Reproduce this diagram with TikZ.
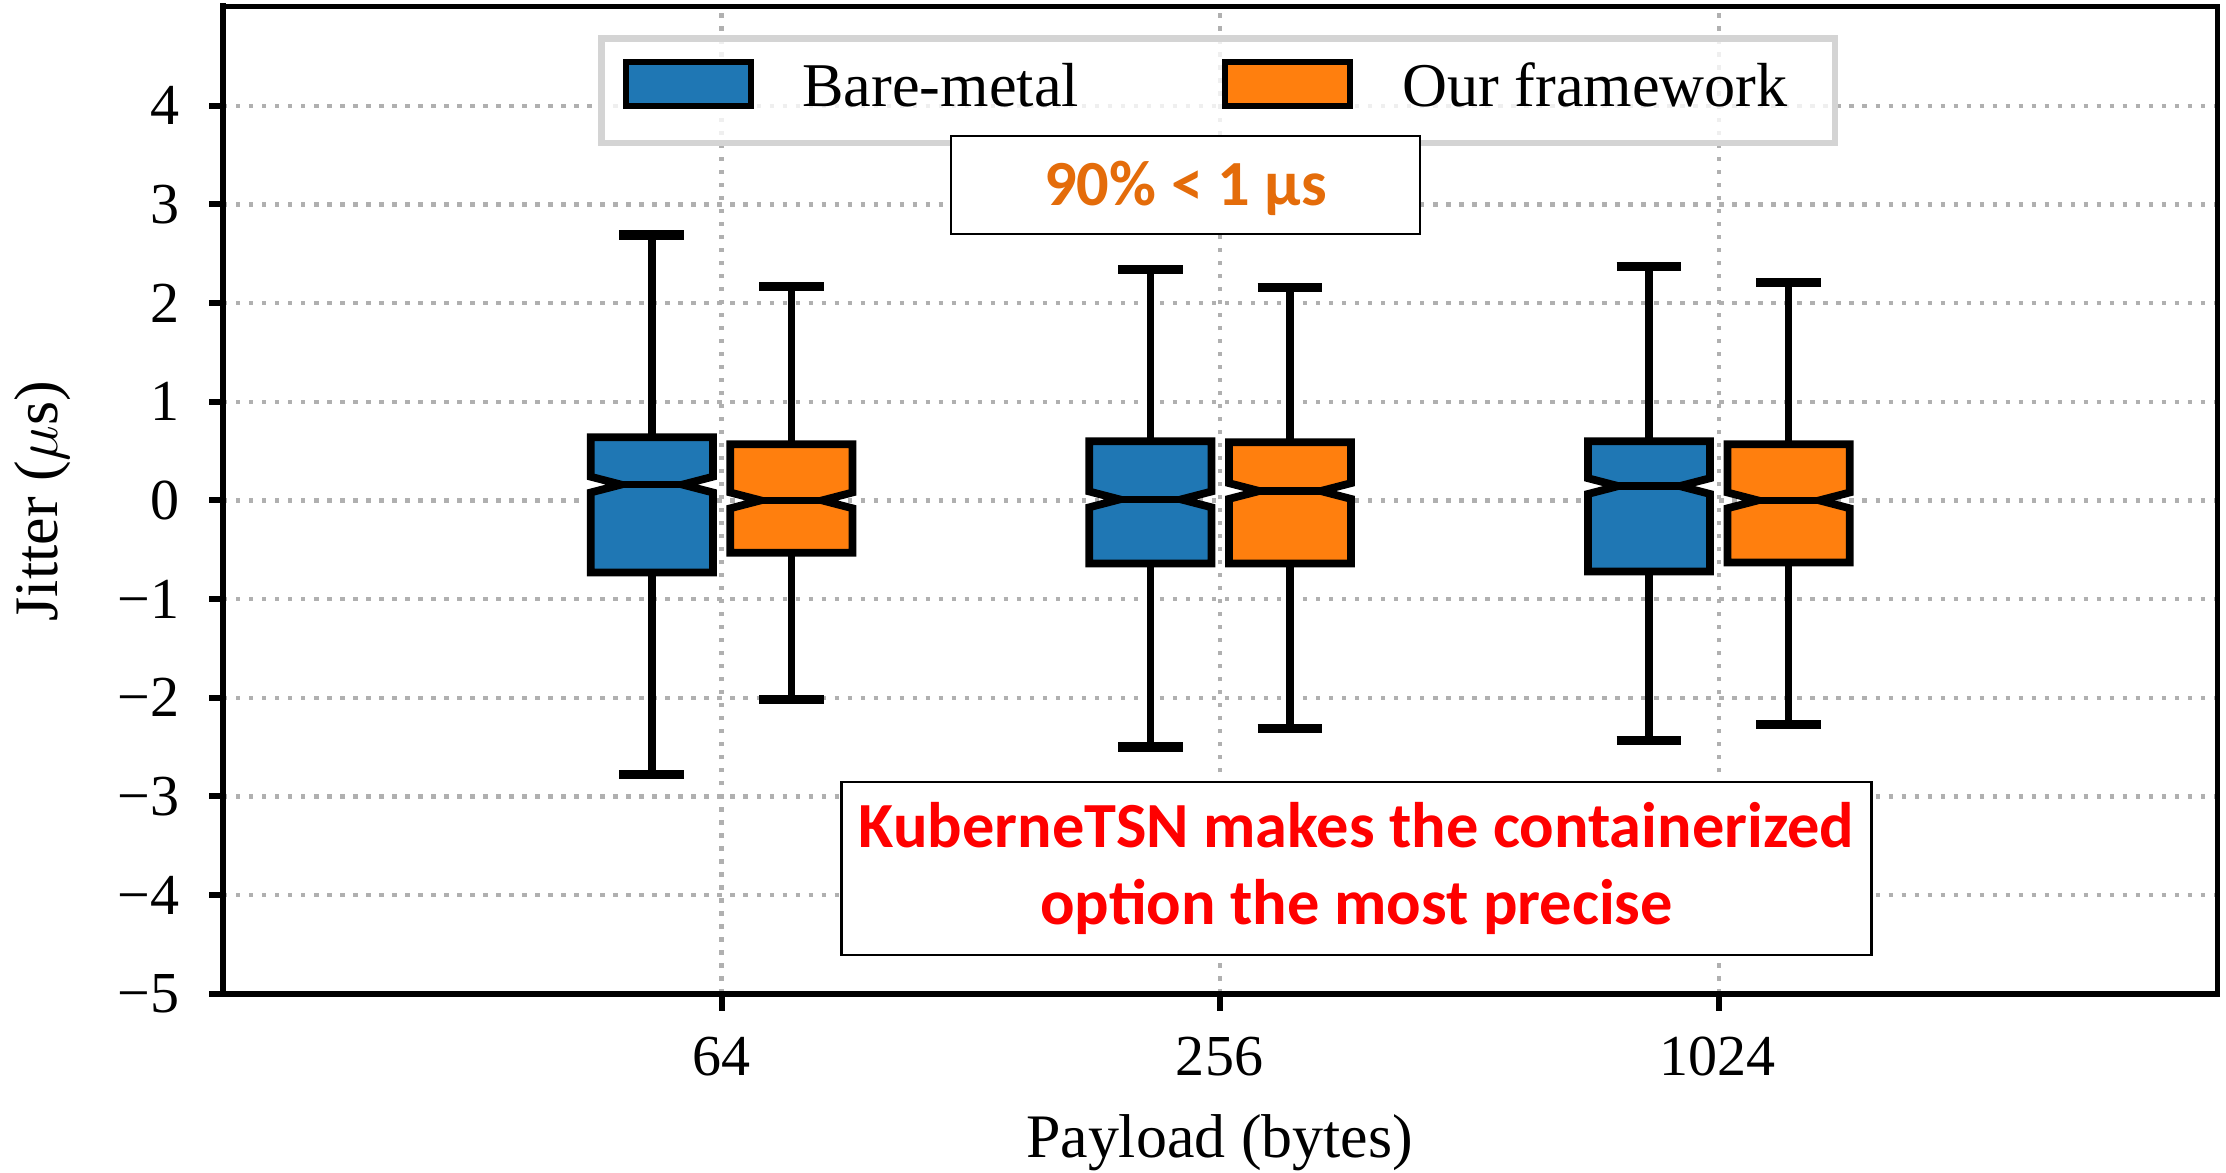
\documentclass[tikz,border=0pt]{standalone}
\usepackage{fontspec}
\setmainfont{Liberation Serif}
\newfontfamily\carlfont{Carlito}
\definecolor{mblue}{RGB}{31,119,180}
\definecolor{morange}{RGB}{255,127,14}
\definecolor{gridgray}{RGB}{176,176,176}
\definecolor{leggray}{RGB}{212,212,212}
\definecolor{annorange}{RGB}{228,108,10}
\definecolor{annred}{RGB}{255,0,0}
\newcommand{\bxp}[7]{%
  \draw[whisk] (#1,#3) -- (#1,#4);
  \draw[whisk] (#1,#6) -- (#1,#7);
  \draw[capline] (#1-0.065,#3) -- (#1+0.065,#3);
  \draw[capline] (#1-0.065,#7) -- (#1+0.065,#7);
  \filldraw[boxline, fill=#2] (#1-0.1225,#4) -- (#1+0.1225,#4) -- (#1+0.1225,#5-0.08) -- (#1+0.0615,#5) -- (#1+0.1225,#5+0.08) -- (#1+0.1225,#6) -- (#1-0.1225,#6) -- (#1-0.1225,#5+0.08) -- (#1-0.0615,#5) -- (#1-0.1225,#5-0.08) -- cycle;
  \draw[medline] (#1-0.0615,#5) -- (#1+0.0615,#5);
}
\begin{document}
\begin{tikzpicture}[x=0.01cm,y=0.01cm,
  gridl/.style={line width=1.25pt, draw=gridgray, dash pattern=on 1.25pt off 2.45pt},
  spine/.style={line width=1.7pt, line cap=rect},
  spinethin/.style={line width=1.4pt, line cap=rect},
  tickl/.style={line width=1.7pt},
  whisk/.style={line width=2.2pt},
  capline/.style={line width=2.6pt},
  boxline/.style={line width=2.2pt, draw=black, miter limit=10},
  medline/.style={line width=2.2pt},
  ticklab/.style={font=\fontsize{16.5}{19}\selectfont, inner sep=0pt},
  axlab/.style={font=\fontsize{17.6}{20}\selectfont, inner sep=0pt},
  leglab/.style={font=\fontsize{17.7}{20}\selectfont, inner sep=0pt, anchor=base west},
  annfont/.style={font=\carlfont\bfseries\fontsize{18.3}{21}\selectfont}]
\path[use as bounding box, fill=white] (0,0) rectangle (2226,1173);

\begin{scope}[shift={(2.229cm,6.722cm)}, x=4.983cm, y=0.986cm]
  % grid
  \foreach \v in {-4,...,4} \draw[gridl] (0,\v) -- (4,\v);
  \foreach \p in {1,2,3} \draw[gridl] (\p,-5) -- (\p,5.01);
  % boxes: pos, colour, wlow, q1, median, q3, whigh
  \bxp{0.86}{mblue}{-2.78}{-0.73}{0.16}{0.64}{2.69}
  \bxp{1.14}{morange}{-2.02}{-0.53}{0.0}{0.57}{2.17}
  \bxp{1.86}{mblue}{-2.50}{-0.64}{0.01}{0.60}{2.34}
  \bxp{2.14}{morange}{-2.31}{-0.64}{0.095}{0.59}{2.16}
  \bxp{2.86}{mblue}{-2.43}{-0.72}{0.145}{0.60}{2.37}
  \bxp{3.14}{morange}{-2.27}{-0.63}{0.0}{0.57}{2.21}
  % spines
  \draw[spinethin] (0,5.01) -- (4,5.01) -- (4,-5);
  \draw[spine] (0,5.01) -- (0,-5) -- (4,-5);
  % ticks
  \foreach \v in {-5,...,4} \draw[tickl] (0,\v) -- ++(-0.14cm,0);
  \foreach \p in {1,2,3} \draw[tickl] (\p,-5) -- ++(0,-0.17cm);
  % y tick labels
  \foreach \v/\t [count=\i] in {-5/−5,-4/−4,-3/−3,-2/−2,-1/−1,0/0,1/1,2/2,3/3,4/4}
    \node[ticklab, anchor=east] (ytl\i) at ([xshift=-0.43cm]0,\v) {\t};
\end{scope}

% x tick labels
\node[ticklab, anchor=base] (xt1) at (721.2,97) {64};
\node[ticklab, anchor=base] (xt2) at (1219.5,97) {256};
\node[ticklab, anchor=base] (xt3) at (1717.8,97) {1024};

% axis labels
\node[axlab, anchor=base] (xlab) at (1219.5,15) {Payload (bytes)};
\node[axlab, rotate=90] (ylab) at (42.6,672) {Jitter ($\mu$s)};

% legend
\fill[white, fill opacity=0.8] (601.7,1030) rectangle (1835,1134.5);
\draw[leggray, line width=1.9pt] (601.7,1030) rectangle (1835,1134.5);
\draw[line width=1.9pt, fill=mblue] (626,1067) rectangle (751,1111);
\node[leglab] (lbare) at (801.7,1066) {Bare-metal};
\draw[line width=1.9pt, fill=morange] (1225,1067) rectangle (1350,1111);
\node[leglab] (lours) at (1401.7,1066) {Our framework};

% annotations
\node[annfont, draw=black, line width=0.7pt, fill=white, minimum width=4.69cm, minimum height=0.98cm, inner sep=0pt, text height=11.8pt, text depth=0pt, text=annorange] (ann1) at (1185.5,988) {90\% < 1 μs};
\node[annfont, draw=black, line width=0.7pt, fill=white, minimum width=10.29cm, minimum height=1.73cm, inner sep=0pt, align=center, text=annred] (ann2) at (1356.5,304.5) {KuberneTSN makes the containerized\\[1pt]option the most precise};
\end{tikzpicture}
\end{document}
